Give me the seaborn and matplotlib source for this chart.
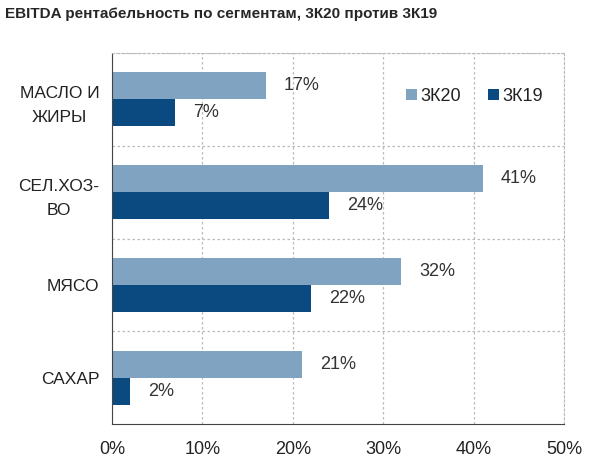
import pandas as pd
import seaborn as sns
import matplotlib
import matplotlib.pyplot as plt
from matplotlib.ticker import FixedLocator, PercentFormatter

matplotlib.use("Agg")

# Data
segments = ["МАСЛО И\nЖИРЫ", "СЕЛ.ХОЗ-\nВО", "МЯСО", "САХАР"]
periods = ["3К20", "3К19"]
margin_3q20 = [17, 41, 32, 21]
margin_3q19 = [7, 24, 22, 2]
palette = {"3К20": "#7fa3c1", "3К19": "#0b4a80"}

df = pd.DataFrame({
    "segment": segments * 2,
    "period": [periods[0]] * 4 + [periods[1]] * 4,
    "value": margin_3q20 + margin_3q19,
})

sns.set_style("white")
plt.rcParams["font.family"] = ["Liberation Sans", "DejaVu Sans"]

fig = plt.figure(figsize=(5.9, 4.72), dpi=100)
ax = fig.add_axes([0.19, 0.1017, 0.766, 0.786])

sns.barplot(data=df, y="segment", x="value", hue="period", hue_order=periods,
            order=segments, palette=palette, orient="h", width=0.58,
            saturation=1, linewidth=0, ax=ax, legend=True)

for cont in ax.containers:
    ax.bar_label(cont, labels=[f"{v:.0f}%" for v in cont.datavalues],
                 padding=13, fontsize=13, color="#333333")

ax.set_xlim(0, 50)
ax.set_ylim(3.5, -0.5)
ax.set_xticks([0, 10, 20, 30, 40, 50])
ax.xaxis.set_major_formatter(PercentFormatter(decimals=0))
ax.tick_params(axis="x", direction="inout", length=8, labelsize=13, colors="#222222", pad=8)
ax.tick_params(axis="y", length=0, labelsize=12.5, labelcolor="#222222", pad=9)
ax.yaxis.set_minor_locator(FixedLocator([-0.5, 0.5, 1.5, 2.5]))
ax.tick_params(axis="y", which="minor", direction="out", length=6, color="#444444")
ax.set_xlabel("")
ax.set_ylabel("")

ax.grid(axis="x", linestyle=(0, (2, 2)), color="#bbbbbb", linewidth=0.9)
ax.grid(axis="y", which="minor", linestyle=(0, (2, 2)), color="#bbbbbb", linewidth=0.9)
ax.set_axisbelow(True)

for side in ["top", "right"]:
    ax.spines[side].set_linestyle((0, (2, 2)))
    ax.spines[side].set_color("#bbbbbb")
ax.spines["left"].set_color("#444444")
ax.spines["bottom"].set_color("#444444")

for t in ax.get_yticklabels():
    t.set_multialignment("center")
    t.set_linespacing(1.75)

ax.legend(loc="upper right", bbox_to_anchor=(0.99, 0.95), ncol=2, frameon=False,
          fontsize=13, handlelength=0.6, handleheight=0.6, handletextpad=0.2,
          columnspacing=1.5, labelcolor="#222222")

fig.text(0.008, 0.962, "EBITDA рентабельность по сегментам, 3К20 против 3К19",
         fontsize=11, fontweight="bold")

fig.savefig("out.png", dpi=100)
